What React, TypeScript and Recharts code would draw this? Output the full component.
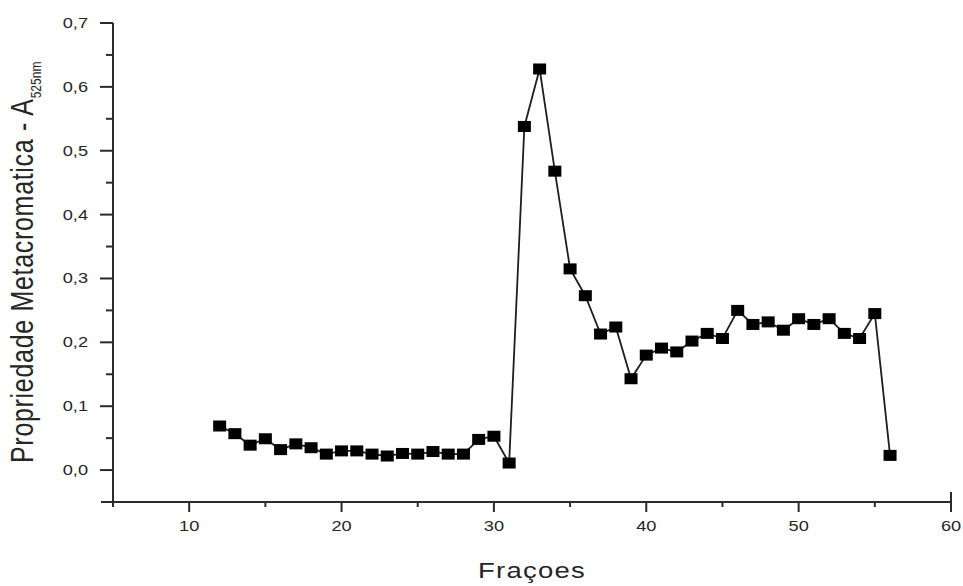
import { Label, Line, LineChart, XAxis, YAxis } from "recharts";

const fractions = [
  12, 13, 14, 15, 16, 17, 18, 19, 20, 21, 22, 23, 24, 25, 26, 27, 28, 29, 30, 31, 32, 33, 34,
  35, 36, 37, 38, 39, 40, 41, 42, 43, 44, 45, 46, 47, 48, 49, 50, 51, 52, 53, 54, 55, 56,
];
const absorbance = [
  0.069, 0.057, 0.039, 0.049, 0.032, 0.041, 0.035, 0.025, 0.03, 0.03, 0.025, 0.022, 0.026,
  0.025, 0.029, 0.025, 0.025, 0.048, 0.053, 0.011, 0.538, 0.628, 0.468, 0.315, 0.273, 0.213,
  0.224, 0.143, 0.18, 0.191, 0.185, 0.202, 0.214, 0.206, 0.25, 0.228, 0.232, 0.219, 0.237,
  0.228, 0.237, 0.214, 0.206, 0.245, 0.023,
];
const xTicks = [5, 10, 15, 20, 25, 30, 35, 40, 45, 50, 55, 60];
const yTicks = [-0.05, 0, 0.05, 0.1, 0.15, 0.2, 0.25, 0.3, 0.35, 0.4, 0.45, 0.5, 0.55, 0.6, 0.65, 0.7];

const AXIS = "#2b2b2b";
const TEXT = "#262626";
const FONT = "'Liberation Sans', Arial, sans-serif";

const data = fractions.map((f, i) => ({ f, v: absorbance[i] }));

const isTenth = (v: number) => Math.abs(v * 10 - Math.round(v * 10)) < 1e-6;

function YTick({ x, y, payload }: any) {
  const v = payload.value as number;
  const major = isTenth(v) && v >= 0;
  const len = v < 0 ? 12 : major ? 13 : 7;
  return (
    <g>
      <line x1={x - len} x2={x} y1={y} y2={y} stroke={AXIS} strokeWidth={2} />
      {major && (
        <text
          transform={`translate(${x - 25},${y + 5}) scale(1.3,1)`}
          textAnchor="end"
          fontSize={14}
          fontFamily={FONT}
          fill={TEXT}
        >
          {v.toFixed(1).replace(".", ",")}
        </text>
      )}
    </g>
  );
}

function XTick({ x, y, payload }: any) {
  const v = payload.value as number;
  const major = v % 10 === 0;
  const len = major ? 10 : 5;
  const top = v === 60 ? y - 10 : y;
  return (
    <g>
      <line x1={x} x2={x} y1={top} y2={y + len} stroke={AXIS} strokeWidth={2} />
      {major && (
        <text
          transform={`translate(${x},${y + 29}) scale(1.3,1)`}
          textAnchor="middle"
          fontSize={14}
          fontFamily={FONT}
          fill={TEXT}
        >
          {v}
        </text>
      )}
    </g>
  );
}

function SquareDot({ cx, cy, index }: any) {
  return <rect key={`d${index}`} x={cx - 6.5} y={cy - 5.5} width={13} height={11} fill="#000" />;
}

function YLabel() {
  return (
    <text
      transform="translate(33,463) rotate(-90) scale(1,1.25)"
      fontSize={25}
      letterSpacing={0.7}
      fontFamily={FONT}
      fill={TEXT}
    >
      Propriedade Metacromatica - A
      <tspan fontSize={12} dy={6} letterSpacing={0}>525nm</tspan>
    </text>
  );
}

function XLabel() {
  return (
    <text
      transform="translate(532,578) scale(1.25,1)"
      textAnchor="middle"
      fontSize={22}
      letterSpacing={1}
      fontFamily={FONT}
      fill={TEXT}
    >
      Fraçoes
    </text>
  );
}

export default function App() {
  return (
    <div style={{ position: "absolute", left: 0, top: 0, width: 963, height: 586, background: "#fff" }}>
      <LineChart width={963} height={586} data={data} margin={{ top: 23, right: 12, bottom: 0, left: 53 }}>
        <XAxis
          dataKey="f"
          type="number"
          domain={[5, 60]}
          ticks={xTicks}
          interval={0}
          height={84}
          tickSize={0}
          tickMargin={0}
          tickLine={false}
          axisLine={{ stroke: AXIS, strokeWidth: 2 }}
          tick={<XTick />}
        >
          <Label content={<XLabel />} />
        </XAxis>
        <YAxis
          type="number"
          domain={[-0.05, 0.7]}
          ticks={yTicks}
          interval={0}
          width={60}
          tickSize={0}
          tickMargin={0}
          tickLine={false}
          axisLine={{ stroke: AXIS, strokeWidth: 2 }}
          tick={<YTick />}
        >
          <Label content={<YLabel />} />
        </YAxis>
        <Line
          type="linear"
          dataKey="v"
          stroke="#1e1e1e"
          strokeWidth={1.8}
          dot={<SquareDot />}
          activeDot={false}
          isAnimationActive={false}
        />
      </LineChart>
    </div>
  );
}
